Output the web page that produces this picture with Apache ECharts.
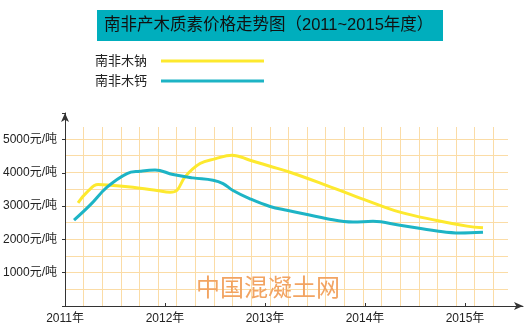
<!DOCTYPE html>
<html>
<head>
<meta charset="utf-8">
<script src="https://cdn.jsdelivr.net/npm/echarts@6/dist/echarts.min.js"></script>
<style>html,body{margin:0;padding:0;background:#fff;}#c{width:530px;height:333px;}</style>
</head>
<body>
<div id="c"></div>
<script>
var titleText = '南非产木质素价格走势图（2011~2015年度）';
var seriesNames = ['南非木钠', '南非木钙'];
var yearTicks = [2011, 2012, 2013, 2014, 2015];
var watermark = '中国混凝土网';

var sodiumYears = [2011.13, 2011.22, 2011.33, 2011.45, 2011.6, 2011.75, 2011.92, 2012.05, 2012.12, 2012.2, 2012.35, 2012.5, 2012.67, 2012.85, 2013.05, 2013.25, 2013.62, 2014.0, 2014.35, 2014.72, 2015.02, 2015.18];
var sodiumValues = [3100, 3420, 3650, 3630, 3590, 3540, 3470, 3420, 3480, 3880, 4280, 4420, 4530, 4380, 4200, 4020, 3620, 3190, 2820, 2570, 2400, 2350];

var calciumYears = [2011.09, 2011.25, 2011.42, 2011.62, 2011.75, 2011.9, 2012.08, 2012.28, 2012.48, 2012.58, 2012.68, 2012.85, 2013.05, 2013.23, 2013.62, 2013.88, 2014.08, 2014.35, 2014.72, 2014.95, 2015.18];
var calciumValues = [2580, 3030, 3570, 3980, 4050, 4090, 3950, 3850, 3780, 3680, 3470, 3220, 2990, 2870, 2625, 2525, 2545, 2425, 2255, 2195, 2215];

function pairs(xs, ys) { return xs.map(function (x, i) { return [x, ys[i]]; }); }

var FONT = '"Liberation Sans", Arial, "Noto Sans CJK SC", sans-serif';
var GRIDC = '#fbdca6';
var AXISC = '#333333';

var chart = echarts.init(document.getElementById('c'));
chart.setOption({
  backgroundColor: '#ffffff',
  animation: false,
  textStyle: { fontFamily: FONT },
  title: {
    text: titleText,
    left: 104, top: 15,
    padding: 0,
    textStyle: { fontFamily: FONT, fontSize: 16.5, fontWeight: 'normal', color: '#111111', lineHeight: 20 }
  },
  legend: {
    orient: 'vertical',
    left: 95, top: 54,
    padding: 0,
    align: 'right',
    icon: 'rect',
    itemWidth: 103, itemHeight: 3,
    itemGap: 6,
    data: seriesNames,
    textStyle: { fontFamily: FONT, fontSize: 13, color: '#222222', lineHeight: 14, padding: [0, 9, 0, 0] }
  },
  grid: [
    { left: 65, top: 113, right: 7, bottom: 27 },
    { left: 65, top: 127, right: 22, bottom: 27 }
  ],
  xAxis: [
    {
      type: 'value', gridIndex: 0, min: 2011, max: 2015.58, interval: 1,
      axisLine: { show: true, lineStyle: { color: AXISC, width: 1 }, symbol: ['none', 'arrow'], symbolSize: [6, 9] },
      axisTick: { show: true, inside: true, length: 3, lineStyle: { color: AXISC } },
      axisLabel: {
        color: '#222222', fontSize: 12, margin: 7, fontFamily: FONT, showMaxLabel: false,
        formatter: function (v) { return yearTicks.indexOf(Math.round(v * 100) / 100) >= 0 ? v + '年' : ''; }
      },
      splitLine: { show: false }
    },
    {
      type: 'value', gridIndex: 1, min: 0, max: 23.79, interval: 1,
      axisLine: { show: false }, axisTick: { show: false }, axisLabel: { show: false },
      splitLine: { show: true, showMinLine: false, showMaxLine: false, lineStyle: { color: GRIDC, width: 1 } }
    }
  ],
  yAxis: [
    {
      type: 'value', gridIndex: 0, min: 0, max: 5800, interval: 1000,
      axisLine: { show: true, lineStyle: { color: AXISC, width: 1 }, symbol: ['none', 'arrow'], symbolSize: [6, 9] },
      axisTick: { show: true, length: 3, lineStyle: { color: AXISC } },
      axisLabel: {
        color: '#222222', fontSize: 12, margin: 8, fontFamily: FONT,
        formatter: function (v) { return (v > 0 && v <= 5000 && v % 1000 === 0) ? v + '元/吨' : ''; }
      },
      splitLine: { show: false }
    },
    {
      type: 'value', gridIndex: 1, min: 0, max: 5359, interval: 500,
      axisLine: { show: false }, axisTick: { show: false }, axisLabel: { show: false },
      splitLine: { show: true, showMinLine: false, showMaxLine: false, lineStyle: { color: GRIDC, width: 1 } }
    }
  ],
  graphic: [
    {
      type: 'rect', left: 97, top: 10, z: -1,
      shape: { width: 346, height: 31 },
      style: { fill: '#00aebd' }
    },
    {
      type: 'text', left: 196, top: 277, z: 1,
      style: { text: watermark, fontSize: 24, fontFamily: FONT, fill: '#f2a462' }
    }
  ],
  series: [
    {
      name: seriesNames[0], type: 'line', xAxisIndex: 0, yAxisIndex: 0,
      data: pairs(sodiumYears, sodiumValues),
      smooth: 0.4, showSymbol: false, symbol: 'none',
      color: '#fde92e',
      lineStyle: { color: '#fde92e', width: 3 }, z: 3
    },
    {
      name: seriesNames[1], type: 'line', xAxisIndex: 0, yAxisIndex: 0,
      data: pairs(calciumYears, calciumValues),
      smooth: 0.4, showSymbol: false, symbol: 'none',
      color: '#1db4c5',
      lineStyle: { color: '#1db4c5', width: 3 }, z: 4
    }
  ]
});
</script>
</body>
</html>
